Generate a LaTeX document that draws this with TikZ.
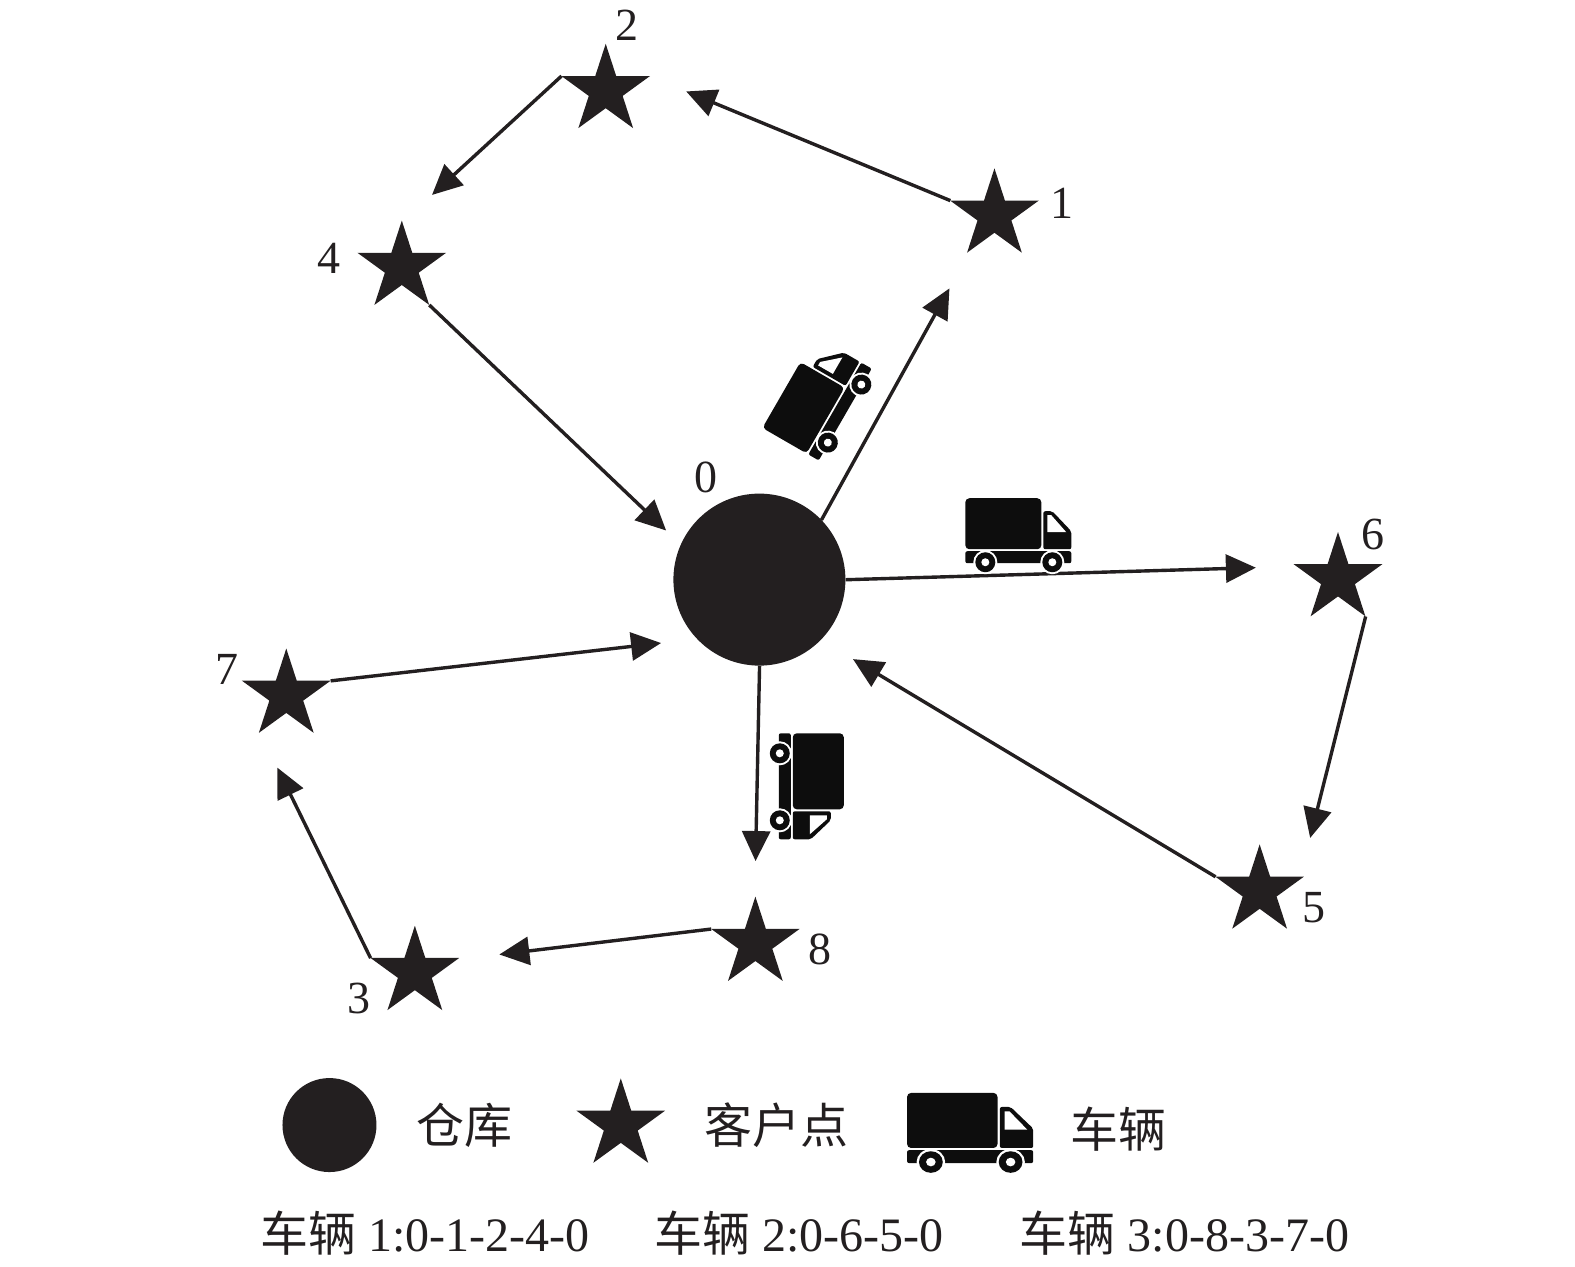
\documentclass[tikz,border=0pt]{standalone}
\usepackage{fontspec}
\setmainfont{Liberation Serif}
\newfontfamily\cjk{Noto Sans CJK SC}
\usetikzlibrary{shapes.geometric,arrows.meta}
\definecolor{ink}{HTML}{231F20}
\tikzset{
  x=0.5pt,y=-0.5pt,
  starnode/.style={star,star points=5,star point ratio=2.618,fill=ink,draw=none,inner sep=0pt,outer sep=0pt,minimum size=46.6pt},
  hub/.style={circle,fill=ink,draw=none,inner sep=0pt,outer sep=0pt,minimum size=86pt},
  legendhub/.style={circle,fill=ink,draw=none,inner sep=0pt,outer sep=0pt,minimum size=47pt},
  route/.style={draw=ink,line width=1.7pt,-{Triangle[length=15pt,width=14pt,fill=ink]}},
  num/.style={text=ink,font=\fontsize{23}{25}\selectfont,inner sep=0pt},
  legendtext/.style={text=ink,font=\cjk\fontsize{24}{26}\selectfont,inner sep=0pt,anchor=west},
  routetext/.style={text=ink,font=\fontsize{24}{28}\selectfont,inner sep=0pt,anchor=west},
  truck/.pic={
    \fill[black!95,rounded corners=2pt] (0,0) rectangle (76,51);
    \fill[black!95,rounded corners=1pt] (78,13) -- (87,13) -- (106,33) -- (106,51) -- (78,51) -- cycle;
    \fill[white] (82,17) -- (86,17) -- (101,34) -- (82,34) -- cycle;
    \fill[black!95,rounded corners=1pt] (0,53) -- (106,53) -- (106,65) -- (0,65) -- cycle;
    \fill[white] (20,64) circle[radius=6pt] (87,64) circle[radius=6pt];
    \fill[black!95] (20,64) circle[radius=5pt] (87,64) circle[radius=5pt];
    \fill[white] (20,64) circle[radius=2pt] (87,64) circle[radius=2pt];
  }
}
\begin{document}
\begin{tikzpicture}
\useasboundingbox (0,0) rectangle (1575,1266);
\begin{scope}[scale=1.0045]
% depot and customers
\node[hub] (c) at (756,577) {};
\node[starnode] (s1) at (990,214) {};
\node[starnode] (s2) at (603,90) {};
\node[starnode] (s3) at (413,968) {};
\node[starnode] (s4) at (400,266) {};
\node[starnode] (s5) at (1254,887) {};
\node[starnode] (s6) at (1332,576) {};
\node[starnode] (s7) at (285,692) {};
\node[starnode] (s8) at (752,939) {};
% numbers
\node[num] (n0) at (703,475) {0};
\node[num] (n1) at (1057,202) {1};
\node[num] (n2) at (624,25) {2};
\node[num] (n3) at (357,994) {3};
\node[num] (n4) at (328,257) {4};
\node[num] (n5) at (1308,904) {5};
\node[num] (n6) at (1367,532) {6};
\node[num] (n7) at (226,666) {7};
\node[num] (n8) at (816,945) {8};
% free ends of the arrows
\coordinate (e1) at (945,287);
\coordinate (e2) at (683,91);
\coordinate (e4) at (430,194);
\coordinate (e0a) at (663,528);
\coordinate (e6) at (1250,565);
\coordinate (e5) at (1304,834);
\coordinate (e0b) at (849,656);
\coordinate (e8) at (752,857);
\coordinate (e3) at (497,950);
\coordinate (e7) at (276,764);
\coordinate (e0c) at (658,640);
% routes
\draw[route] (c.44) -- (e1);
\draw[route] (s1.outer point 2) -- (e2);
\draw[route] (s2.outer point 2) -- (e4);
\draw[route] (s4.outer point 4) -- (e0a);
\draw[route] (c.east) -- (e6);
\draw[route] (s6.outer point 4) -- (e5);
\draw[route] (s5.outer point 2) -- (e0b);
\draw[route] (c.south) -- (e8);
\draw[route] (s8.outer point 2) -- (e3);
\draw[route] (s3.outer point 2) -- (e7);
\draw[route] (s7.outer point 5) -- (e0c);
% trucks
\pic[rotate=60] at (759,426) {truck};
\pic at (961,496) {truck};
\pic[rotate=-90] at (840,730) {truck};
% legend
\node[legendhub] (lc) at (328,1120) {};
\node[legendtext] (lt1) at (414,1120) {仓库};
\node[starnode] (ls) at (618,1120) {};
\node[legendtext] (lt2) at (701,1120) {客户点};
\pic[xscale=1.19,yscale=1.08] at (903,1088) {truck};
\node[legendtext] (lt3) at (1065,1124) {车辆};
% routes text
\node[routetext] (r1) at (259,1228) {{\cjk 车辆} 1:0-1-2-4-0};
\node[routetext] (r2) at (651,1228) {{\cjk 车辆} 2:0-6-5-0};
\node[routetext] (r3) at (1015,1228) {{\cjk 车辆} 3:0-8-3-7-0};
\end{scope}
\end{tikzpicture}
\end{document}
